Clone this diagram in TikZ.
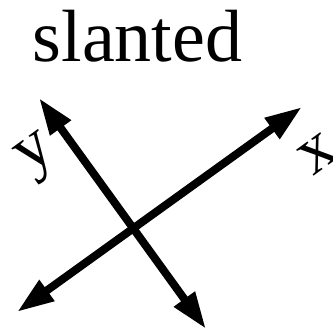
\documentclass[tikz,border=0pt]{standalone}
\usepackage{fontspec}
\setmainfont{Liberation Serif}
\newfontfamily\tms{Liberation Serif}
\usetikzlibrary{arrows.meta}
\tikzset{
  axis/.style={line width=8pt, {Triangle[length=37pt,width=24pt]}-{Triangle[length=37pt,width=24pt]}},
  lbl/.style={inner sep=0pt, font=\tms\fontsize{68}{68}\selectfont, rotate=36},
  ttl/.style={inner sep=0pt, font=\tms\fontsize{74}{74}\selectfont, anchor=base}
}
\begin{document}
\begin{tikzpicture}[x=1pt,y=-1pt]
\clip (0,0) rectangle (333,331);
\node[ttl] (title) at (137.5,62) {slanted};
\coordinate (xa) at (17,312);
\coordinate (xb) at (302,107);
\coordinate (ya) at (206,329);
\coordinate (yb) at (39,98);
\draw[axis] (xa) -- (xb);
\draw[axis] (ya) -- (yb);
\node[lbl] (ylab) at (38,158) {y};
\node[lbl] (xlab) at (318,154) {x};
\end{tikzpicture}
\end{document}
